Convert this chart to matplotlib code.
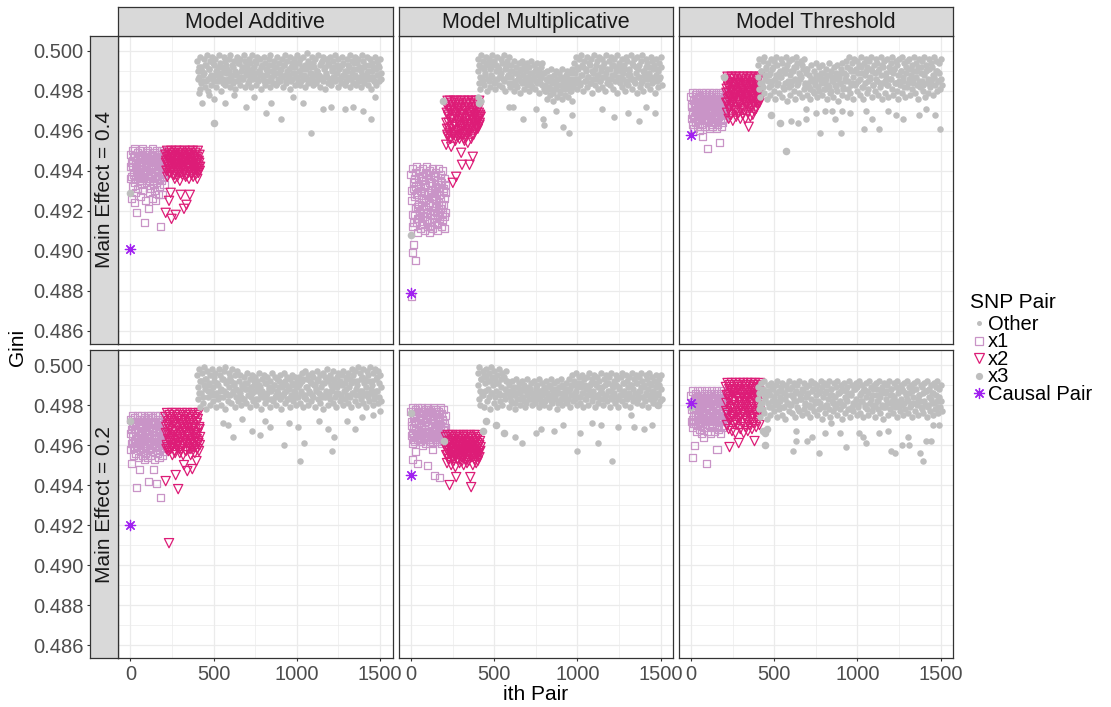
import numpy as np
import matplotlib

matplotlib.use('Agg')

import matplotlib.pyplot as plt
from matplotlib.lines import Line2D
from matplotlib.ticker import MultipleLocator, FormatStrFormatter

plt.rcParams['font.family'] = ['Liberation Sans', 'DejaVu Sans']

MODELS = ['Model Additive', 'Model Multiplicative', 'Model Threshold']
EFFECTS = ['Main Effect = 0.4', 'Main Effect = 0.2']
GROUPS = ['Other', 'x1', 'x2', 'x3', 'Causal Pair']

# pair index layout: x1 pairs first, then x2 pairs, then the rest;
# the rows of each group interleave within one step of pair index
X1_START, X1_STEP = 0, 5
X2_START, X2_STEP = 210, 5
OTHER_START, OTHER_STEP = 400, 10

# ---- Model Additive, main effect 0.4 ----
add4_other_hi = [.4995, .4992, .4997, .4990, .4996, .4993, .4998, .4991, .4995, .4997,
                 .4993, .4996, .4990, .4998, .4994, .4992, .4997, .4995, .4991, .4996,
                 .4998, .4993, .4995, .4990, .4997, .4994, .4996, .4992, .4998, .4995,
                 .4991, .4996, .4994, .4998, .4992, .4995, .4997, .4990, .4996, .4993,
                 .4997, .4994, .4991, .4996, .4998, .4993, .4995, .4992, .4997, .4994,
                 .4990, .4996, .4993, .4998, .4995, .4991, .4997, .4994, .4996, .4992,
                 .4998, .4994, .4996, .4991, .4997, .4993, .4999, .4995, .4992, .4997,
                 .4994, .4996, .4990, .4998, .4993, .4995, .4997, .4992, .4996, .4994,
                 .4997, .4991, .4995, .4998, .4993, .4996, .4992, .4997, .4994, .4990,
                 .4996, .4993, .4998, .4995, .4991, .4997, .4994, .4996, .4992, .4998,
                 .4995, .4993, .4997, .4990, .4996, .4994, .4992, .4997, .4995, .4993,
                 .4996]
add4_other_mid = [.4990, .4987, .4992, .4985, .4989, .4993, .4986, .4991, .4988, .4994,
                  .4985, .4990, .4992, .4987, .4989, .4984, .4991, .4993, .4986, .4990,
                  .4988, .4992, .4985, .4989, .4994, .4987, .4990, .4986, .4992, .4988,
                  .4993, .4985, .4989, .4991, .4987, .4994, .4986, .4990, .4992, .4988,
                  .4985, .4991, .4989, .4993, .4986, .4990, .4988, .4992, .4984, .4989,
                  .4991, .4987, .4993, .4985, .4990, .4988, .4992, .4986, .4989, .4994,
                  .4987, .4990, .4985, .4992, .4988, .4991, .4986, .4993, .4989, .4987,
                  .4992, .4985, .4990, .4988, .4994, .4986, .4991, .4989, .4987, .4993,
                  .4985, .4990, .4992, .4986, .4989, .4991, .4987, .4993, .4988, .4985,
                  .4990, .4992, .4986, .4989, .4994, .4987, .4991, .4985, .4990, .4988,
                  .4992, .4986, .4989, .4993, .4987, .4990, .4985, .4991, .4988, .4992,
                  .4989]
add4_other_lo = [.4986, .4981, .4984, .4988, .4982, .4985, .4980, .4987, .4983, .4986,
                 .4988, .4982, .4985, .4987, .4980, .4986, .4983, .4989, .4985, .4982,
                 .4987, .4984, .4981, .4988, .4985, .4983, .4987, .4986, .4982, .4989,
                 .4984, .4987, .4982, .4986, .4989, .4983, .4985, .4988, .4981, .4986,
                 .4983, .4988, .4985, .4982, .4987, .4984, .4989, .4983, .4986, .4985,
                 .4987, .4982, .4988, .4984, .4986, .4981, .4985, .4989, .4983, .4987,
                 .4985, .4983, .4988, .4986, .4982, .4987, .4984, .4989, .4985, .4983,
                 .4988, .4984, .4986, .4982, .4987, .4985, .4981, .4988, .4984, .4986,
                 .4983, .4987, .4985, .4989, .4982, .4986, .4984, .4988, .4983, .4985,
                 .4987, .4982, .4986, .4984, .4988, .4983, .4985, .4987, .4982, .4986,
                 .4984, .4988, .4983, .4986, .4981, .4987, .4985, .4983, .4988, .4985,
                 .4986]
add4_out_x = [410, 427, 470, 501, 567, 620, 696, 740, 817, 846, 907, 977, 1037, 1087,
              1157, 1207, 1287, 1337, 1397, 1443, 1467]
add4_out_y = [.4979, .4974, .4978, .4976, .4974, .4978, .4972, .4977, .4969, .4974, .4966,
              .4977, .4974, .4959, .4971, .4972, .4971, .4972, .4970, .4966, .4977]
add4_x1_a = [.4948, .4944, .4950, .4942, .4947, .4951, .4945, .4941, .4949, .4946, .4943,
             .4950, .4947, .4942, .4948, .4951, .4944, .4946, .4940, .4949, .4945, .4950,
             .4943, .4947, .4941, .4948, .4951, .4945, .4942, .4949, .4946, .4950, .4944,
             .4947, .4941, .4948, .4945, .4950, .4943, .4946, .4949, .4944]
add4_x1_b = [.4936, .4926, .4932, .4938, .4924, .4934, .4929, .4919, .4931, .4937, .4935,
             .4939, .4927, .4933, .4930, .4936, .4914, .4938, .4925, .4934, .4937, .4921,
             .4929, .4935, .4931, .4938, .4926, .4933, .4936, .4930, .4925, .4934, .4937,
             .4928, .4939, .4932, .4912, .4935, .4928, .4937, .4933, .4938]
add4_x1_c = [.4942, .4937, .4945, .4939, .4947, .4936, .4943, .4940, .4946, .4938, .4944,
             .4941, .4935, .4947, .4939, .4943, .4937, .4945, .4940, .4948, .4936, .4942,
             .4946, .4938, .4944, .4941, .4935, .4947, .4939, .4943, .4937, .4945, .4940,
             .4948, .4936, .4942, .4946, .4938, .4944, .4941, .4939, .4945]
add4_x2_a = [.4948, .4945, .4950, .4943, .4947, .4949, .4944, .4950, .4946, .4948, .4943,
             .4949, .4945, .4950, .4947, .4944, .4948, .4950, .4946, .4943, .4949, .4945,
             .4947, .4950, .4944, .4948, .4946, .4949, .4943, .4950, .4947, .4945, .4948,
             .4950, .4944, .4946, .4949, .4943, .4947, .4950, .4945, .4948]
add4_x2_b = [.4919, .4940, .4937, .4942, .4925, .4939, .4929, .4916, .4941, .4938, .4943,
             .4936, .4918, .4940, .4937, .4942, .4939, .4935, .4928, .4941, .4938, .4943,
             .4921, .4940, .4937, .4923, .4942, .4939, .4936, .4928, .4941, .4938, .4943,
             .4937, .4940, .4942, .4938, .4941, .4936, .4939, .4942, .4940]
add4_x2_c = [.4944, .4940, .4947, .4942, .4939, .4946, .4943, .4948, .4941, .4945, .4938,
             .4944, .4947, .4940, .4943, .4946, .4941, .4948, .4939, .4945, .4942, .4947,
             .4940, .4944, .4938, .4946, .4943, .4941, .4948, .4945, .4939, .4944, .4942,
             .4947, .4940, .4946, .4943, .4941, .4945, .4939, .4944, .4942]
add4_x3_x = [0, 503]
add4_x3_y = [.4929, .4964]
add4_causal = .4901

# ---- Model Multiplicative, main effect 0.4 ----
mult4_other_hi = [.4996, .4993, .4998, .4995, .4991, .4997, .4994, .4996, .4992, .4998,
                  .4995, .4993, .4997, .4991, .4996, .4994, .4998, .4992, .4995, .4997,
                  .4993, .4990, .4995, .4992, .4989, .4994, .4991, .4995, .4993, .4990,
                  .4994, .4992, .4995, .4989, .4993, .4991, .4994, .4990, .4992, .4994,
                  .4989, .4986, .4990, .4987, .4991, .4985, .4988, .4990, .4986, .4989,
                  .4987, .4991, .4985, .4988, .4990, .4986, .4989, .4991,
                  .4994, .4997, .4992, .4996, .4998, .4993, .4995, .4991, .4997, .4994,
                  .4996, .4990, .4998, .4993, .4995, .4997, .4992, .4996, .4994, .4998,
                  .4991, .4995, .4997, .4993, .4996, .4992, .4998, .4994, .4990, .4996,
                  .4993, .4997, .4995, .4991, .4998, .4994, .4996, .4992, .4997, .4993,
                  .4995, .4998, .4990, .4996, .4994, .4992, .4997, .4995, .4993, .4996,
                  .4991, .4994, .4997]
mult4_other_mid = [.4990, .4987, .4992, .4985, .4989, .4993, .4986, .4991, .4988, .4994,
                   .4985, .4990, .4992, .4987, .4989, .4986, .4991, .4993, .4988, .4990,
                   .4987, .4984, .4989, .4983, .4986, .4990, .4985, .4988, .4991, .4984,
                   .4987, .4989, .4983, .4986, .4990, .4985, .4988, .4984, .4987, .4989,
                   .4983, .4980, .4985, .4981, .4987, .4979, .4984, .4982, .4986, .4980,
                   .4983, .4985, .4981, .4987, .4982, .4984, .4980, .4986,
                   .4989, .4986, .4991, .4984, .4988, .4992, .4985, .4990, .4987, .4993,
                   .4984, .4989, .4991, .4986, .4988, .4985, .4990, .4992, .4987, .4989,
                   .4984, .4991, .4986, .4993, .4988, .4990, .4985, .4992, .4987, .4989,
                   .4991, .4984, .4988, .4990, .4986, .4993, .4985, .4989, .4991, .4987,
                   .4984, .4990, .4988, .4992, .4986, .4989, .4987, .4991, .4985, .4988,
                   .4990, .4986, .4992]
mult4_other_lo = [.4984, .4981, .4986, .4983, .4988, .4980, .4985, .4982, .4987, .4984,
                  .4981, .4986, .4983, .4988, .4982, .4985, .4980, .4987, .4984, .4982,
                  .4983, .4980, .4985, .4982, .4987, .4979, .4984, .4981, .4986, .4983,
                  .4980, .4985, .4982, .4987, .4981, .4984, .4979, .4986, .4983, .4981,
                  .4980, .4976, .4982, .4978, .4984, .4975, .4981, .4977, .4983, .4979,
                  .4976, .4982, .4978, .4984, .4977, .4980, .4975, .4982,
                  .4984, .4981, .4986, .4983, .4988, .4980, .4985, .4982, .4987, .4984,
                  .4979, .4986, .4983, .4988, .4981, .4985, .4982, .4987, .4980, .4984,
                  .4986, .4983, .4988, .4981, .4985, .4979, .4987, .4984, .4982, .4986,
                  .4980, .4985, .4983, .4988, .4981, .4986, .4984, .4979, .4987, .4982,
                  .4985, .4980, .4986, .4983, .4988, .4981, .4984, .4986, .4979, .4985,
                  .4982, .4987, .4983]
mult4_out_x = [405, 420, 591, 611, 671, 751, 791, 801, 871, 911, 951, 967, 1151, 1221,
               1307, 1371, 1411, 1467]
mult4_out_y = [.4977, .4975, .4972, .4972, .4966, .4971, .4966, .4963, .4970, .4962, .4959,
               .4968, .4971, .4967, .4969, .4965, .4972, .4969]
mult4_x1_a = [.4938, .4930, .4941, .4934, .4927, .4939, .4932, .4942, .4929, .4936, .4940,
              .4931, .4937, .4926, .4941, .4935, .4929, .4939, .4933, .4942, .4928, .4936,
              .4940, .4930, .4938, .4934, .4941, .4927, .4937, .4932, .4939, .4929, .4935,
              .4941, .4931, .4938, .4926, .4934, .4940, .4930, .4936, .4933]
mult4_x1_b = [.4877, .4899, .4912, .4903, .4918, .4895, .4914, .4922, .4909, .4916, .4920,
              .4911, .4924, .4913, .4917, .4921, .4910, .4925, .4915, .4919, .4912, .4923,
              .4909, .4918, .4914, .4926, .4911, .4920, .4916, .4922, .4913, .4919, .4910,
              .4924, .4917, .4921, .4912, .4918, .4915, .4923, .4911, .4919]
mult4_x1_c = [.4925, .4918, .4931, .4914, .4936, .4921, .4928, .4916, .4933, .4923, .4919,
              .4930, .4913, .4935, .4926, .4917, .4932, .4922, .4938, .4915, .4929, .4924,
              .4934, .4912, .4927, .4920, .4937, .4918, .4930, .4925, .4914, .4933, .4921,
              .4928, .4916, .4935, .4923, .4919, .4931, .4926, .4917, .4929]
mult4_x2_a = [.4973, .4969, .4975, .4967, .4972, .4975, .4970, .4974, .4966, .4971, .4975,
              .4968, .4973, .4975, .4969, .4972, .4974, .4967, .4975, .4970, .4973, .4968,
              .4975, .4971, .4966, .4974, .4972, .4975, .4969, .4973, .4967, .4975, .4970,
              .4974, .4968, .4972, .4975, .4969, .4973, .4971, .4975, .4968]
mult4_x2_b = [.4953, .4961, .4957, .4964, .4959, .4956, .4952, .4962, .4934, .4958, .4963,
              .4955, .4937, .4960, .4957, .4964, .4956, .4961, .4949, .4943, .4958, .4963,
              .4955, .4960, .4957, .4962, .4954, .4959, .4943, .4963, .4956, .4961, .4947,
              .4958, .4964, .4960, .4962, .4965, .4961, .4966, .4963, .4967]
mult4_x2_c = [.4964, .4958, .4968, .4961, .4970, .4956, .4966, .4962, .4959, .4969, .4963,
              .4957, .4967, .4960, .4971, .4965, .4958, .4962, .4968, .4961, .4966, .4956,
              .4964, .4970, .4959, .4963, .4967, .4960, .4965, .4969, .4962, .4958, .4966,
              .4964, .4961, .4968, .4963, .4966, .4962, .4969, .4964, .4967]
mult4_x3_x = [0, 194, 410]
mult4_x3_y = [.4908, .4975, .4974]
mult4_causal = .4879

# ---- Model Threshold, main effect 0.4 ----
thr4_other_hi = [.4993, .4996, .4990, .4995, .4997, .4992, .4994, .4988, .4996, .4991,
                 .4995, .4997, .4993, .4989, .4996, .4994, .4991, .4997, .4993, .4995,
                 .4990, .4996, .4992, .4997, .4994, .4989, .4995, .4993, .4996, .4991,
                 .4991, .4988, .4993, .4986, .4990, .4994, .4987, .4992, .4989, .4993,
                 .4986, .4991, .4988, .4994, .4990, .4987, .4992, .4989, .4993, .4987,
                 .4991, .4994, .4989,
                 .4995, .4992, .4997, .4990, .4994, .4996, .4991, .4995, .4993, .4997,
                 .4989, .4994, .4996, .4992, .4995, .4997, .4990, .4993, .4996, .4994,
                 .4991, .4997, .4993, .4995, .4989, .4996, .4992, .4994, .4997, .4991,
                 .4995, .4993, .4996, .4990, .4997, .4994, .4992, .4995, .4996, .4991,
                 .4993, .4997, .4994, .4990, .4996, .4992, .4995, .4997, .4993, .4991,
                 .4996, .4994, .4992, .4997, .4995, .4990, .4994, .4996]
thr4_other_mid = [.4987, .4984, .4990, .4982, .4988, .4991, .4985, .4989, .4983, .4992,
                  .4986, .4988, .4984, .4990, .4987, .4982, .4989, .4991, .4985, .4988,
                  .4983, .4990, .4986, .4992, .4984, .4988, .4987, .4991, .4983, .4989,
                  .4984, .4981, .4986, .4980, .4985, .4988, .4982, .4987, .4984, .4989,
                  .4981, .4986, .4983, .4988, .4980, .4985, .4987, .4982, .4986, .4984,
                  .4989, .4981, .4985,
                  .4988, .4985, .4991, .4983, .4987, .4990, .4984, .4989, .4986, .4992,
                  .4982, .4988, .4990, .4985, .4987, .4991, .4983, .4989, .4986, .4990,
                  .4984, .4988, .4992, .4985, .4987, .4983, .4990, .4986, .4989, .4991,
                  .4984, .4988, .4985, .4990, .4987, .4982, .4989, .4991, .4986, .4988,
                  .4984, .4990, .4987, .4992, .4985, .4989, .4983, .4988, .4990, .4986,
                  .4991, .4984, .4988, .4987, .4990, .4985, .4989, .4986]
thr4_other_lo = [.4981, .4977, .4984, .4979, .4986, .4976, .4982, .4978, .4985, .4980,
                 .4976, .4983, .4979, .4987, .4977, .4981, .4984, .4975, .4982, .4978,
                 .4985, .4980, .4976, .4983, .4979, .4986, .4977, .4981, .4984, .4978,
                 .4982, .4976, .4985, .4979, .4983, .4977, .4980, .4986, .4978, .4981,
                 .4984, .4976, .4982, .4979, .4985, .4977, .4983, .4980, .4975, .4984,
                 .4978, .4982, .4986, .4977, .4981, .4979, .4984, .4976, .4983, .4980,
                 .4985, .4978, .4982, .4976, .4984, .4979, .4981, .4986, .4977, .4983,
                 .4980, .4985, .4978, .4982, .4976, .4984, .4979, .4983, .4977, .4986,
                 .4981, .4978, .4984, .4980, .4976, .4983, .4979, .4985, .4977, .4982,
                 .4984, .4978, .4981, .4986, .4979, .4983, .4976, .4982, .4985, .4980,
                 .4977, .4984, .4979, .4982, .4986, .4978, .4983, .4980, .4985, .4981,
                 .4983]
thr4_out_x = [604, 644, 690, 694, 754, 774, 804, 848, 868, 900, 910, 954, 1040, 1054,
              1088, 1130, 1184, 1230, 1274, 1370, 1410, 1468, 1494]
thr4_out_y = [.4965, .4964, .4966, .4971, .4969, .4959, .4970, .4970, .4966, .4959, .4970,
              .4969, .4961, .4970, .4966, .4961, .4970, .4968, .4966, .4968, .4971, .4968,
              .4961]
thr4_x1_a = [.4977, .4973, .4979, .4975, .4972, .4978, .4974, .4979, .4971, .4976, .4978,
             .4973, .4977, .4979, .4975, .4972, .4978, .4974, .4979, .4976, .4971, .4977,
             .4979, .4973, .4975, .4978, .4972, .4979, .4976, .4974, .4978, .4971, .4977,
             .4979, .4975, .4973, .4978, .4976, .4979, .4972, .4977, .4974]
thr4_x1_b = [.4966, .4963, .4969, .4961, .4967, .4964, .4970, .4962, .4968, .4965, .4960,
             .4967, .4963, .4969, .4957, .4966, .4962, .4968, .4964, .4970, .4951, .4965,
             .4961, .4967, .4963, .4969, .4962, .4966, .4964, .4968, .4961, .4967, .4963,
             .4969, .4954, .4965, .4962, .4968, .4964, .4970, .4966, .4969]
thr4_x1_c = [.4972, .4968, .4975, .4966, .4973, .4970, .4976, .4967, .4974, .4969, .4977,
             .4971, .4965, .4974, .4968, .4976, .4970, .4973, .4966, .4975, .4969, .4972,
             .4977, .4967, .4974, .4971, .4966, .4975, .4968, .4973, .4970, .4976, .4967,
             .4972, .4969, .4975, .4971, .4974, .4966, .4973, .4968, .4971]
thr4_x2_a = [.4985, .4981, .4987, .4979, .4984, .4986, .4980, .4987, .4983, .4978, .4986,
             .4982, .4987, .4984, .4979, .4985, .4987, .4981, .4983, .4986, .4980, .4987,
             .4984, .4978, .4985, .4982, .4987, .4980, .4986, .4983, .4987, .4979, .4984,
             .4986, .4981, .4987, .4983, .4985, .4980, .4986, .4982, .4987]
thr4_x2_b = [.4974, .4969, .4976, .4966, .4972, .4977, .4968, .4973, .4965, .4975, .4970,
             .4977, .4967, .4973, .4976, .4969, .4974, .4966, .4971, .4977, .4968, .4975,
             .4970, .4966, .4973, .4976, .4969, .4962, .4975, .4967, .4972, .4977, .4968,
             .4974, .4970, .4976, .4971, .4975, .4973, .4977, .4974, .4976]
thr4_x2_c = [.4979, .4974, .4982, .4971, .4977, .4984, .4975, .4980, .4972, .4983, .4976,
             .4978, .4970, .4981, .4975, .4984, .4973, .4979, .4977, .4982, .4971, .4980,
             .4976, .4983, .4974, .4978, .4981, .4972, .4979, .4984, .4975, .4977, .4982,
             .4973, .4980, .4976, .4983, .4974, .4978, .4981, .4977, .4980]
thr4_x3_x = [196, 484, 534, 574]
thr4_x3_y = [.4987, .4968, .4964, .4950]
thr4_causal = .4958

# ---- Model Additive, main effect 0.2 ----
add2_other_hi = [.4995, .4998, .4992, .4996, .4999, .4993, .4997, .4990, .4995, .4998,
                 .4994, .4996, .4991, .4998, .4995, .4993, .4997, .4999, .4992, .4996,
                 .4994, .4998, .4991, .4995, .4997,
                 .4992, .4995, .4989, .4994, .4991, .4996, .4988, .4993, .4995, .4990,
                 .4994, .4992, .4996, .4989, .4993, .4995, .4991, .4994, .4988, .4992,
                 .4996, .4990, .4994, .4993, .4989, .4995, .4991, .4996, .4992, .4994,
                 .4989, .4993, .4995, .4990, .4994, .4992,
                 .4994, .4991, .4996, .4993, .4997, .4989, .4995, .4992, .4996, .4994,
                 .4990, .4997, .4993, .4995, .4991, .4996, .4994, .4998, .4992, .4995,
                 .4993, .4997, .4990, .4994, .4996, .4992, .4995, .4997, .4991, .4994,
                 .4996, .4993, .4998, .4995, .4997, .4992, .4999, .4996, .4994, .4998,
                 .4993, .4997, .4995, .4999, .4992, .4996, .4998, .4994, .4997, .4995]
add2_other_mid = [.4989, .4986, .4992, .4984, .4990, .4993, .4987, .4991, .4985, .4989,
                  .4992, .4986, .4990, .4984, .4988, .4993, .4987, .4991, .4985, .4989,
                  .4992, .4986, .4990, .4988, .4984,
                  .4987, .4984, .4990, .4983, .4988, .4991, .4985, .4989, .4986, .4992,
                  .4983, .4988, .4990, .4985, .4987, .4984, .4991, .4986, .4989, .4983,
                  .4988, .4990, .4985, .4987, .4992, .4984, .4989, .4986, .4990, .4983,
                  .4988, .4985, .4991, .4987, .4984, .4989,
                  .4990, .4986, .4992, .4984, .4989, .4993, .4987, .4991, .4985, .4990,
                  .4988, .4992, .4986, .4989, .4984, .4991, .4987, .4993, .4985, .4990,
                  .4988, .4992, .4986, .4989, .4991, .4984, .4990, .4987, .4993, .4985,
                  .4989, .4991, .4986, .4992, .4988, .4990, .4985, .4993, .4987, .4991,
                  .4989, .4986, .4992, .4988, .4990, .4985, .4993, .4987, .4991, .4989]
add2_other_lo = [.4983, .4979, .4986, .4981, .4988, .4978, .4984, .4980, .4987, .4982,
                 .4985, .4979, .4983, .4987, .4980, .4984, .4978, .4986, .4982, .4985,
                 .4981, .4987, .4979, .4984, .4982, .4986, .4980, .4983, .4988, .4981,
                 .4985, .4979, .4984, .4982, .4987, .4980, .4983, .4986, .4978, .4984,
                 .4981, .4985, .4983, .4979, .4987, .4982, .4984, .4980, .4986, .4983,
                 .4978, .4985, .4981, .4987, .4983, .4979, .4984, .4982, .4986, .4980,
                 .4984, .4981, .4987, .4979, .4985, .4983, .4980, .4986, .4982, .4984,
                 .4979, .4987, .4983, .4981, .4985, .4978, .4984, .4986, .4980, .4983,
                 .4987, .4981, .4984, .4979, .4986, .4982, .4985, .4980, .4983, .4988,
                 .4981, .4984, .4979, .4986, .4982, .4985, .4980, .4987, .4983, .4981,
                 .4985, .4979, .4984, .4982, .4986, .4980, .4983, .4987, .4981, .4984,
                 .4982]
add2_out_x = [557, 587, 617, 671, 731, 781, 811, 841, 921, 951, 1007, 1021, 1041, 1131,
              1187, 1211, 1221, 1301, 1351, 1391, 1457, 1497]
add2_out_y = [.4971, .4970, .4964, .4973, .4967, .4965, .4972, .4969, .4960, .4971, .4969,
              .4952, .4961, .4972, .4968, .4957, .4964, .4972, .4968, .4974, .4975, .4977]
add2_x1_a = [.4973, .4968, .4975, .4965, .4971, .4974, .4967, .4972, .4975, .4964, .4970,
             .4973, .4966, .4975, .4969, .4972, .4963, .4974, .4968, .4971, .4975, .4966,
             .4973, .4969, .4975, .4964, .4971, .4974, .4967, .4972, .4975, .4965, .4970,
             .4973, .4968, .4975, .4966, .4972, .4969, .4974, .4967, .4971]
add2_x1_b = [.4958, .4951, .4961, .4955, .4959, .4962, .4956, .4939, .4960, .4954, .4961,
             .4948, .4957, .4962, .4955, .4959, .4953, .4961, .4956, .4960, .4954, .4942,
             .4958, .4962, .4955, .4960, .4957, .4948, .4961, .4953, .4959, .4941, .4956,
             .4962, .4954, .4958, .4934, .4960, .4955, .4961, .4957, .4959]
add2_x1_c = [.4966, .4961, .4970, .4959, .4968, .4963, .4972, .4960, .4967, .4964, .4971,
             .4958, .4965, .4969, .4962, .4973, .4960, .4967, .4964, .4970, .4961, .4968,
             .4966, .4972, .4959, .4965, .4969, .4962, .4971, .4963, .4967, .4960, .4970,
             .4964, .4968, .4961, .4972, .4965, .4963, .4969, .4962, .4966]
add2_x2_a = [.4974, .4969, .4976, .4966, .4972, .4975, .4968, .4973, .4976, .4965, .4971,
             .4974, .4967, .4976, .4970, .4973, .4965, .4975, .4969, .4972, .4976, .4966,
             .4974, .4968, .4975, .4971, .4976, .4965, .4973, .4970, .4975, .4967, .4972,
             .4976, .4969, .4974, .4966, .4975, .4971, .4973, .4976, .4968]
add2_x2_b = [.4942, .4958, .4959, .4963, .4911, .4961, .4958, .4964, .4955, .4960, .4962,
             .4957, .4945, .4963, .4959, .4938, .4961, .4956, .4963, .4958, .4960, .4955,
             .4950, .4962, .4957, .4961, .4947, .4963, .4958, .4960, .4955, .4962, .4948,
             .4959, .4961, .4956, .4963, .4952, .4958, .4962, .4957, .4960]
add2_x2_c = [.4966, .4960, .4970, .4957, .4968, .4963, .4972, .4959, .4967, .4962, .4971,
             .4956, .4965, .4969, .4961, .4973, .4958, .4967, .4964, .4970, .4960, .4968,
             .4963, .4972, .4957, .4966, .4969, .4961, .4971, .4964, .4958, .4967, .4962,
             .4970, .4965, .4959, .4968, .4963, .4966, .4961, .4969, .4964]
add2_x3_x = [0]
add2_x3_y = [.4972]
add2_causal = .4920

# ---- Model Multiplicative, main effect 0.2 ----
mult2_other_hi = [.4996, .4999, .4993, .4997, .4995, .4998, .4992, .4996, .4999, .4994,
                  .4997, .4991, .4995, .4998, .4993, .4996, .4994, .4997, .4992,
                  .4990, .4987, .4992, .4989, .4993, .4986, .4991, .4988, .4992, .4990,
                  .4987, .4993, .4989, .4991, .4986, .4992, .4988, .4990, .4993, .4987,
                  .4991, .4989, .4992, .4986, .4990, .4993, .4988, .4991, .4987, .4992,
                  .4989, .4993, .4990, .4986, .4991, .4988,
                  .4993, .4990, .4995, .4992, .4996, .4989, .4994, .4991, .4995, .4993,
                  .4988, .4994, .4996, .4991, .4993, .4995, .4990, .4994, .4992, .4996,
                  .4989, .4993, .4995, .4991, .4994, .4996, .4990, .4992, .4995, .4993,
                  .4989, .4994, .4996, .4991, .4995, .4992, .4994, .4990, .4996, .4993,
                  .4995, .4991, .4994, .4996, .4992, .4989, .4995, .4993, .4996, .4990,
                  .4994, .4992, .4995, .4991, .4993, .4995]
mult2_other_mid = [.4990, .4987, .4993, .4985, .4991, .4994, .4988, .4992, .4986, .4990,
                   .4993, .4987, .4991, .4985, .4989, .4994, .4988, .4992, .4986,
                   .4985, .4982, .4988, .4981, .4986, .4989, .4983, .4987, .4984, .4988,
                   .4981, .4986, .4988, .4983, .4985, .4982, .4989, .4984, .4987, .4981,
                   .4986, .4988, .4983, .4985, .4989, .4982, .4987, .4984, .4988, .4981,
                   .4986, .4983, .4989, .4985, .4982, .4987,
                   .4988, .4985, .4990, .4983, .4987, .4991, .4984, .4989, .4986, .4990,
                   .4983, .4988, .4990, .4985, .4987, .4991, .4984, .4989, .4986, .4988,
                   .4983, .4990, .4985, .4991, .4987, .4984, .4989, .4986, .4990, .4983,
                   .4988, .4985, .4991, .4987, .4984, .4989, .4986, .4990, .4988, .4983,
                   .4991, .4985, .4987, .4989, .4984, .4990, .4986, .4988, .4991, .4985,
                   .4987, .4983, .4989, .4986, .4990, .4988]
mult2_other_lo = [.4983, .4980, .4985, .4979, .4987, .4982, .4984, .4978, .4986, .4981,
                  .4984, .4979, .4986, .4982, .4980, .4985, .4983, .4987, .4979, .4984,
                  .4981, .4985, .4978, .4983, .4986, .4980, .4984, .4982, .4979, .4985,
                  .4983, .4987, .4980, .4984, .4981, .4986, .4979, .4983, .4985, .4980,
                  .4982, .4986, .4979, .4984, .4981, .4985, .4983, .4978, .4986, .4982,
                  .4980, .4984, .4987, .4981, .4983, .4979, .4985, .4982, .4986, .4980,
                  .4984, .4981, .4986, .4979, .4983, .4985, .4980, .4987, .4982, .4984,
                  .4979, .4985, .4981, .4983, .4986, .4980, .4984, .4982, .4987, .4979,
                  .4983, .4986, .4981, .4984, .4979, .4985, .4982, .4986, .4980, .4983,
                  .4985, .4979, .4984, .4982, .4986, .4981, .4983, .4987, .4980, .4984,
                  .4982, .4985, .4979, .4983, .4986, .4981, .4984, .4980, .4985, .4982,
                  .4983]
mult2_out_x = [627, 667, 751, 781, 857, 911, 997, 1015, 1087, 1125, 1141, 1207, 1247,
               1321, 1341, 1401, 1451]
mult2_out_y = [.4964, .4961, .4966, .4968, .4967, .4970, .4957, .4966, .4971, .4961, .4970,
               .4952, .4969, .4975, .4969, .4968, .4970]
mult2_x1_a = [.4977, .4972, .4979, .4969, .4975, .4978, .4971, .4976, .4979, .4968, .4974,
              .4977, .4970, .4979, .4973, .4976, .4968, .4978, .4972, .4975, .4979, .4970,
              .4977, .4973, .4978, .4969, .4975, .4979, .4971, .4976, .4978, .4968, .4974,
              .4977, .4972, .4979, .4970, .4976, .4973, .4978, .4969, .4975]
mult2_x1_b = [.4965, .4953, .4961, .4964, .4962, .4957, .4966, .4963, .4951, .4965, .4962,
              .4967, .4964, .4960, .4966, .4963, .4965, .4961, .4964, .4967, .4950, .4963,
              .4966, .4962, .4965, .4961, .4958, .4964, .4945, .4966, .4962, .4965, .4963,
              .4967, .4944, .4964, .4961, .4966, .4963, .4965, .4962, .4966]
mult2_x1_c = [.4970, .4966, .4974, .4963, .4972, .4968, .4976, .4964, .4971, .4967, .4975,
              .4962, .4969, .4973, .4965, .4977, .4968, .4972, .4964, .4974, .4966, .4970,
              .4975, .4963, .4971, .4967, .4973, .4965, .4976, .4969, .4964, .4972, .4967,
              .4974, .4966, .4970, .4963, .4973, .4968, .4971, .4965, .4969]
mult2_x2_a = [.4964, .4960, .4965, .4958, .4962, .4965, .4959, .4963, .4965, .4961, .4958,
              .4964, .4960, .4965, .4962, .4959, .4964, .4965, .4961, .4963, .4958, .4965,
              .4960, .4964, .4962, .4965, .4959, .4963, .4961, .4965, .4958, .4964, .4960,
              .4962, .4965, .4959, .4963, .4965, .4961, .4964, .4960, .4962]
mult2_x2_b = [.4955, .4951, .4957, .4953, .4940, .4956, .4950, .4954, .4957, .4952, .4955,
              .4949, .4944, .4956, .4953, .4957, .4951, .4955, .4958, .4952, .4954, .4950,
              .4956, .4953, .4957, .4951, .4955, .4952, .4956, .4944, .4939, .4954, .4950,
              .4956, .4953, .4957, .4951, .4955, .4952, .4956, .4954, .4957]
mult2_x2_c = [.4958, .4955, .4961, .4953, .4959, .4962, .4956, .4960, .4954, .4963, .4957,
              .4955, .4961, .4953, .4959, .4962, .4956, .4958, .4954, .4960, .4963, .4957,
              .4955, .4961, .4959, .4953, .4962, .4956, .4958, .4960, .4954, .4961, .4957,
              .4959, .4955, .4962, .4956, .4958, .4954, .4960, .4957, .4959]
mult2_x3_x = [0, 201, 431, 451, 511, 561, 1487]
mult2_x3_y = [.4976, .4962, .4967, .4972, .4970, .4966, .4980]
mult2_causal = .4945

# ---- Model Threshold, main effect 0.2 ----
thr2_other_hi = [.4989, .4986, .4991, .4988, .4992, .4985, .4990, .4987, .4991, .4989,
                 .4984, .4990, .4992, .4987, .4989, .4991, .4986, .4990, .4988, .4992,
                 .4985, .4989, .4991, .4987, .4990, .4992, .4986, .4988, .4991, .4989,
                 .4985, .4990, .4992, .4987, .4991, .4988, .4990, .4986, .4992, .4989,
                 .4991, .4987, .4990, .4992, .4988, .4985, .4991, .4989, .4992, .4986,
                 .4990, .4988, .4991, .4987, .4989, .4992, .4985, .4990, .4988, .4991,
                 .4989, .4992, .4986, .4990, .4988, .4991, .4987, .4992, .4989, .4985,
                 .4990, .4991, .4988, .4992, .4986, .4989, .4991, .4987, .4990, .4992,
                 .4988, .4985, .4991, .4989, .4992, .4987, .4990, .4988, .4991, .4986,
                 .4992, .4989, .4990, .4987, .4991, .4988, .4992, .4985, .4990, .4989,
                 .4991, .4987, .4992, .4988, .4990, .4986, .4991, .4989, .4992, .4988,
                 .4990]
thr2_other_mid = [.4983, .4980, .4986, .4978, .4984, .4987, .4981, .4985, .4979, .4988,
                  .4982, .4986, .4980, .4984, .4987, .4979, .4983, .4985, .4981, .4988,
                  .4980, .4984, .4986, .4982, .4978, .4985, .4983, .4987, .4980, .4984,
                  .4986, .4979, .4983, .4988, .4981, .4985, .4982, .4987, .4979, .4984,
                  .4986, .4980, .4983, .4985, .4988, .4981, .4984, .4979, .4986, .4982,
                  .4987, .4980, .4984, .4983, .4985, .4978, .4986, .4981, .4988, .4983,
                  .4980, .4985, .4982, .4987, .4979, .4984, .4986, .4981, .4983, .4988,
                  .4980, .4985, .4982, .4984, .4987, .4979, .4986, .4983, .4981, .4985,
                  .4988, .4980, .4984, .4982, .4986, .4979, .4983, .4987, .4981, .4985,
                  .4982, .4986, .4980, .4984, .4988, .4981, .4983, .4985, .4979, .4986,
                  .4982, .4987, .4980, .4984, .4983, .4986, .4981, .4985, .4979, .4984,
                  .4982]
thr2_other_lo = [.4978, .4974, .4981, .4976, .4983, .4973, .4979, .4975, .4982, .4977,
                 .4980, .4974, .4978, .4982, .4975, .4979, .4973, .4981, .4977, .4980,
                 .4976, .4982, .4974, .4979, .4977, .4983, .4975, .4978, .4981, .4976,
                 .4980, .4974, .4979, .4977, .4982, .4975, .4978, .4981, .4973, .4979,
                 .4976, .4980, .4978, .4974, .4982, .4977, .4979, .4975, .4981, .4978,
                 .4973, .4980, .4976, .4982, .4978, .4974, .4979, .4977, .4981, .4975,
                 .4979, .4976, .4982, .4974, .4980, .4978, .4975, .4981, .4977, .4979,
                 .4974, .4982, .4978, .4976, .4980, .4973, .4979, .4981, .4975, .4978,
                 .4982, .4976, .4979, .4974, .4981, .4977, .4980, .4975, .4978, .4983,
                 .4976, .4979, .4974, .4981, .4977, .4980, .4975, .4982, .4978, .4976,
                 .4980, .4974, .4979, .4977, .4981, .4975, .4978, .4982, .4976, .4979,
                 .4977]
thr2_out_x = [614, 630, 634, 698, 730, 770, 804, 844, 898, 934, 1008, 1034, 1054, 1130,
              1184, 1200, 1224, 1268, 1304, 1310, 1378, 1394, 1414, 1444, 1454, 1490]
thr2_out_y = [.4957, .4962, .4967, .4962, .4964, .4956, .4966, .4971, .4966, .4959, .4966,
              .4964, .4961, .4966, .4967, .4957, .4956, .4960, .4964, .4960, .4956, .4952,
              .4962, .4962, .4970, .4970]
thr2_x1_a = [.4985, .4980, .4987, .4978, .4983, .4986, .4979, .4984, .4987, .4981, .4978,
             .4985, .4982, .4987, .4980, .4984, .4986, .4979, .4983, .4987, .4981, .4985,
             .4978, .4986, .4982, .4987, .4980, .4984, .4986, .4979, .4983, .4987, .4981,
             .4985, .4978, .4986, .4982, .4987, .4980, .4984, .4983, .4986]
thr2_x1_b = [.4972, .4954, .4969, .4975, .4960, .4971, .4967, .4974, .4970, .4976, .4968,
             .4973, .4966, .4975, .4971, .4964, .4969, .4974, .4951, .4972, .4967, .4975,
             .4970, .4966, .4973, .4976, .4969, .4972, .4967, .4974, .4970, .4958, .4975,
             .4968, .4972, .4966, .4974, .4969, .4973, .4976, .4970, .4972]
thr2_x1_c = [.4978, .4973, .4982, .4971, .4980, .4975, .4984, .4972, .4979, .4976, .4983,
             .4970, .4977, .4981, .4974, .4985, .4972, .4979, .4976, .4982, .4973, .4980,
             .4978, .4984, .4971, .4977, .4981, .4974, .4983, .4975, .4979, .4972, .4982,
             .4976, .4980, .4973, .4984, .4977, .4975, .4981, .4974, .4978]
thr2_x2_a = [.4989, .4985, .4991, .4983, .4988, .4990, .4984, .4991, .4986, .4982, .4989,
             .4987, .4991, .4984, .4988, .4990, .4983, .4991, .4986, .4989, .4985, .4991,
             .4982, .4988, .4990, .4984, .4991, .4987, .4983, .4989, .4991, .4985, .4988,
             .4990, .4984, .4991, .4986, .4989, .4983, .4990, .4987, .4991]
thr2_x2_b = [.4977, .4970, .4975, .4968, .4959, .4973, .4979, .4967, .4974, .4971, .4978,
             .4966, .4976, .4970, .4973, .4961, .4979, .4968, .4975, .4971, .4977, .4966,
             .4974, .4969, .4978, .4972, .4967, .4976, .4970, .4973, .4979, .4968, .4975,
             .4971, .4962, .4977, .4969, .4974, .4972, .4978, .4970, .4976]
thr2_x2_c = [.4981, .4976, .4985, .4973, .4983, .4978, .4987, .4975, .4982, .4979, .4986,
             .4972, .4980, .4984, .4977, .4988, .4974, .4982, .4979, .4985, .4976, .4983,
             .4980, .4987, .4973, .4981, .4984, .4977, .4986, .4978, .4982, .4975, .4985,
             .4979, .4983, .4976, .4987, .4980, .4978, .4984, .4977, .4981]
thr2_x3_x = [0, 430, 444, 458, 444]
thr2_x3_y = [.4979, .4967, .4966, .4968, .4960]
thr2_causal = .4981

PANELS = [
    [(add4_other_hi, add4_other_mid, add4_other_lo, add4_out_x, add4_out_y,
      (add4_x1_a, add4_x1_b, add4_x1_c), (add4_x2_a, add4_x2_b, add4_x2_c),
      add4_x3_x, add4_x3_y, add4_causal),
     (mult4_other_hi, mult4_other_mid, mult4_other_lo, mult4_out_x, mult4_out_y,
      (mult4_x1_a, mult4_x1_b, mult4_x1_c), (mult4_x2_a, mult4_x2_b, mult4_x2_c),
      mult4_x3_x, mult4_x3_y, mult4_causal),
     (thr4_other_hi, thr4_other_mid, thr4_other_lo, thr4_out_x, thr4_out_y,
      (thr4_x1_a, thr4_x1_b, thr4_x1_c), (thr4_x2_a, thr4_x2_b, thr4_x2_c),
      thr4_x3_x, thr4_x3_y, thr4_causal)],
    [(add2_other_hi, add2_other_mid, add2_other_lo, add2_out_x, add2_out_y,
      (add2_x1_a, add2_x1_b, add2_x1_c), (add2_x2_a, add2_x2_b, add2_x2_c),
      add2_x3_x, add2_x3_y, add2_causal),
     (mult2_other_hi, mult2_other_mid, mult2_other_lo, mult2_out_x, mult2_out_y,
      (mult2_x1_a, mult2_x1_b, mult2_x1_c), (mult2_x2_a, mult2_x2_b, mult2_x2_c),
      mult2_x3_x, mult2_x3_y, mult2_causal),
     (thr2_other_hi, thr2_other_mid, thr2_other_lo, thr2_out_x, thr2_out_y,
      (thr2_x1_a, thr2_x1_b, thr2_x1_c), (thr2_x2_a, thr2_x2_b, thr2_x2_c),
      thr2_x3_x, thr2_x3_y, thr2_causal)],
]

GREY = '#BEBEBE'
X1_COLOR = '#C994C7'
X2_COLOR = '#DD1C77'
CAUSAL_COLOR = '#A020F0'
ASTERISK = (8, 2, 0)

W, H = 1111, 707
fig = plt.figure(figsize=(W / 100, H / 100), dpi=100)


def px_rect(left, top, width, height):
    return [left / W, 1 - (top + height) / H, width / W, height / H]


def stacked(start, step, rows):
    # rows share one run of pair indices, each row shifted by a fraction of a step
    n = len(rows)
    xs = np.concatenate([start + step * (np.arange(len(row)) + k / n)
                         for k, row in enumerate(rows)])
    ys = np.concatenate([np.asarray(row) for row in rows])
    return xs, ys


def draw_panel(ax, other_hi, other_mid, other_lo, out_x, out_y, x1_rows, x2_rows,
               x3_x, x3_y, causal):
    x1_x, x1_y = stacked(X1_START, X1_STEP, x1_rows)
    x2_x, x2_y = stacked(X2_START, X2_STEP, x2_rows)
    ot_x, ot_y = stacked(OTHER_START, OTHER_STEP, [other_hi, other_mid, other_lo])

    ax.scatter(x1_x, x1_y, marker='s', s=26, facecolors='none', edgecolors=X1_COLOR,
               linewidths=0.9, zorder=2)
    ax.scatter(x2_x, x2_y, marker='v', s=44, facecolors='none', edgecolors=X2_COLOR,
               linewidths=0.9, zorder=3)
    ax.scatter(np.r_[ot_x, out_x], np.r_[ot_y, out_y], marker='o', s=22, color=GREY,
               linewidths=0, zorder=4)
    ax.scatter(x3_x, x3_y, marker='o', s=30, color=GREY, linewidths=0, zorder=5)
    ax.scatter([0], [causal], marker=ASTERISK, s=55, color=CAUSAL_COLOR,
               linewidths=0.9, zorder=6)


YLIM = (0.48535, 0.50075)
XLIM = (-75, 1575)
col_left = [118, 398.5, 678.5]
col_width = 274.5
row_top = [35.7, 350]
row_height = 308.3

for r in range(2):
    for c in range(3):
        ax = fig.add_axes(px_rect(col_left[c], row_top[r], col_width, row_height))
        draw_panel(ax, *PANELS[r][c])
        ax.set_xlim(*XLIM)
        ax.set_ylim(*YLIM)
        ax.set_xticks([0, 500, 1000, 1500])
        ax.xaxis.set_minor_locator(MultipleLocator(250))
        ax.yaxis.set_major_locator(MultipleLocator(0.002))
        ax.yaxis.set_minor_locator(MultipleLocator(0.001))
        ax.grid(which='major', color='#EBEBEB', linewidth=0.9)
        ax.grid(which='minor', color='#EBEBEB', linewidth=0.5)
        ax.set_axisbelow(True)
        for sp in ax.spines.values():
            sp.set_color('#333333')
            sp.set_linewidth(0.9)
        ax.tick_params(which='minor', length=0)
        ax.tick_params(axis='y', which='both', left=False, labelleft=False)
        if r == 1:
            ax.tick_params(axis='x', which='major', length=2.5, width=0.8,
                           color='#333333', labelsize=14.5, labelcolor='#4D4D4D', pad=2)
        else:
            ax.tick_params(axis='x', which='both', bottom=False, labelbottom=False)

        if r == 0:
            strip = fig.add_axes(px_rect(col_left[c], 7, col_width, 28.7))
            strip.set_facecolor('#D9D9D9')
            strip.set_xticks([])
            strip.set_yticks([])
            for sp in strip.spines.values():
                sp.set_color('#333333')
                sp.set_linewidth(0.9)
            strip.text(0.5, 0.45, MODELS[c], ha='center', va='center', fontsize=15.5,
                       color='#1A1A1A', transform=strip.transAxes)

    # row strip sits between the y axis and the first panel
    rstrip = fig.add_axes(px_rect(90, row_top[r], 28, row_height))
    rstrip.set_facecolor('#D9D9D9')
    rstrip.set_xticks([])
    rstrip.set_ylim(*YLIM)
    rstrip.yaxis.set_major_locator(MultipleLocator(0.002))
    rstrip.yaxis.set_major_formatter(FormatStrFormatter('%.3f'))
    rstrip.tick_params(axis='y', length=2.5, width=0.8, color='#333333', labelsize=14.5,
                       labelcolor='#4D4D4D', pad=2)
    for sp in rstrip.spines.values():
        sp.set_color('#333333')
        sp.set_linewidth(0.9)
    rstrip.text(0.5, 0.5, EFFECTS[r], rotation=90, ha='center', va='center', fontsize=15,
                color='#1A1A1A', transform=rstrip.transAxes)

fig.text(535.5 / W, 1 - 694 / H, 'ith Pair', ha='center', va='center', fontsize=15)
fig.text(18 / W, 1 - 347 / H, 'Gini', ha='center', va='center', rotation=90, fontsize=15)

# legend drawn in its own pixel-space box
leg = fig.add_axes(px_rect(960, 285, 151, 125))
leg.axis('off')
leg.set_xlim(960, 1111)
leg.set_ylim(410, 285)
leg.text(970, 302, 'SNP Pair', ha='left', va='center', fontsize=15)
legend_keys = [
    dict(marker='o', markersize=3.6, color=GREY, markerfacecolor=GREY, markeredgewidth=0),
    dict(marker='s', markersize=5.5, color=X1_COLOR, markerfacecolor='none', markeredgewidth=0.9),
    dict(marker='v', markersize=6.5, color=X2_COLOR, markerfacecolor='none', markeredgewidth=0.9),
    dict(marker='o', markersize=5.2, color=GREY, markerfacecolor=GREY, markeredgewidth=0),
    dict(marker=ASTERISK, markersize=8, color=CAUSAL_COLOR, markeredgewidth=0.9),
]
for i, (label, key) in enumerate(zip(GROUPS, legend_keys)):
    y = 323 + 17.6 * i
    leg.add_line(Line2D([979], [y], linestyle='none', **key))
    leg.text(988, y + 1, label, ha='left', va='center', fontsize=14.5)

fig.savefig('out.png', dpi=100)
